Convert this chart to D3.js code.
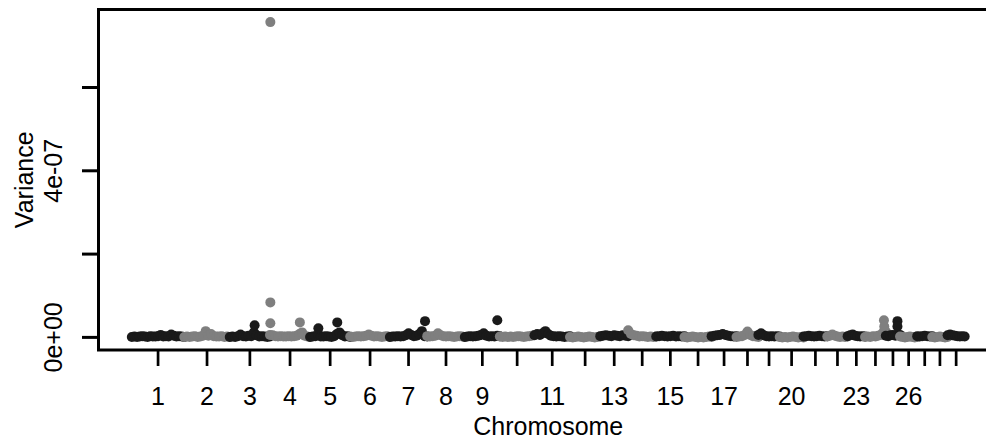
<!DOCTYPE html>
<html><head><meta charset="utf-8">
<script src="https://cdn.jsdelivr.net/npm/d3@7"></script>
<style>
body{margin:0;background:#fff}
svg{display:block}
text{font-family:"Liberation Sans",Arial,Helvetica,sans-serif;fill:#000}
</style>
</head><body>
<svg id="chart" width="986" height="439"></svg>
<script>
// ---- data ----
const chromosomes = [1,2,3,4,5,6,7,8,9,10,11,12,13,14,15,16,17,18,19,20,21,22,23,24,25,26,27,28,29];
const chromLengthsMb = [158.3,137.1,121.4,120.8,121.2,119.5,112.6,113.4,105.7,104.3,107.3,91.2,84.2,84.6,85.3,81.7,75.2,66.0,64.1,72.0,71.6,61.4,52.5,62.7,42.9,51.7,45.4,46.3,51.5];
const xTickLabels = ["1","2","3","4","5","6","7","8","9","","11","","13","","15","","17","","","20","","","23","","","26","","",""];
// background SNP variances per chromosome, in units of 1e-9, ordered along the chromosome
const valueUnit = 1e-9;
const bandValues = [
  [1,2,1,2,3,2,1,3,2,2,3,6,2,3,2,7,4,2,3,2,1],
  [1,2,1,2,3,1,2,4,15,4,8,3,2,2,3,1,2,1],
  [1,2,1,3,7,3,2,4,3,12,5,2,3,2,1,2],
  [6,5,3,2,3,2,2,3,2,3,4,8,12,4,2,1],
  [1,2,3,6,2,2,3,2,1,3,8,12,5,2,3,1],
  [2,1,2,3,2,3,4,7,4,2,3,2,1,2,3,1],
  [1,2,2,3,2,3,5,10,6,3,4,8,15,3,2],
  [3,2,3,4,10,5,3,2,3,2,1,2,3,2,1],
  [1,2,3,2,3,4,6,10,4,2,3,2,4,3],
  [2,1,2,1,2,1,2,3,2,1,2,3,4,6],
  [5,8,6,10,15,8,4,3,2,3,2,1,2,3],
  [1,0,1,2,1,0,1,2,1,0,1,2],
  [3,4,5,4,3,5,4,3,5,4,3],
  [17,8,5,4,2,3,2,1,2,1,2],
  [2,3,4,3,2,3,4,2,3,2,3],
  [1,0,1,2,1,0,1,0,1,2,1],
  [3,4,5,6,8,6,4,3,2,3],
  [1,2,3,6,14,6,3,2,1],
  [6,10,5,3,2,3,2,3,2],
  [1,0,1,0,1,2,1,0,1,0],
  [2,3,4,3,2,3,4,3,2,3],
  [2,4,7,4,2,1,2,1,2],
  [3,5,7,4,3,2,3,2],
  [1,2,1,3,2,4,6,12,14],
  [4,3,5,6,4,8,6],
  [2,1,0,1,2,1,0,1],
  [3,2,3,4,3,2,3],
  [1,0,1,2,1,0,1],
  [5,7,5,4,3,2,3,2]
];
// high-variance SNPs: chromosome, position within chromosome (Mb), variance (1e-9)
const peakChrom = [3, 4, 4, 4, 4, 5, 5, 7, 9, 24, 24, 25, 25];
const peakPosMb = [75, 1, 1, 1, 90, 25, 82, 106, 98, 57, 58, 35, 35];
const peakValue = [29, 757, 84, 34, 36, 22, 36, 39, 41, 41, 26, 39, 26];
const yTickValues = [0, 2e-7, 4e-7, 6e-7];
const yTickLabels = ["0e+00", "", "4e-07", ""];
const seriesColors = ["#1a1a1a", "#7f7f7f"];

// ---- build ----
const starts = [];
let acc = 0;
chromLengthsMb.forEach(l => { starts.push(acc); acc += l; });
const total = acc;

const points = [];
chromosomes.forEach((c, ci) => {
  const vals = bandValues[ci], n = vals.length, len = chromLengthsMb[ci];
  vals.forEach((v, i) => points.push({c: ci, pos: starts[ci] + i * len / (n - 1), v: v * valueUnit}));
  peakChrom.forEach((pc, k) => {
    if (pc === c) points.push({c: ci, pos: starts[ci] + peakPosMb[k], v: peakValue[k] * valueUnit});
  });
});

const maxV = d3.max(points, d => d.v);
const L = 98.5, R = 998, T = 9.5, B = 350;
const x = d3.scaleLinear().domain([-0.04 * total, total * 1.04]).range([L, R]);
const y = d3.scaleLinear().domain([-0.04 * maxV, maxV * 1.04]).range([B, T]);
const FS = 25;

const svg = d3.select("#chart");

svg.append("g").selectAll("circle").data(points).join("circle")
  .attr("cx", d => x(d.pos)).attr("cy", d => y(d.v)).attr("r", 5)
  .attr("fill", d => seriesColors[d.c % 2]);

// box
svg.append("rect").attr("x", L).attr("y", T).attr("width", R - L).attr("height", B - T)
  .attr("fill", "none").attr("stroke", "#000").attr("stroke-width", 3);

// x axis ticks
const mids = chromosomes.map((c, i) => starts[i] + chromLengthsMb[i] / 2);
const gx = svg.append("g");
gx.selectAll("line").data(mids).join("line")
  .attr("x1", d => x(d)).attr("x2", d => x(d)).attr("y1", B).attr("y2", 366)
  .attr("stroke", "#000").attr("stroke-width", 2.7);
gx.selectAll("text").data(mids).join("text")
  .attr("x", d => x(d)).attr("y", 405).attr("text-anchor", "middle")
  .attr("font-size", FS).text((d, i) => xTickLabels[i]);

// y axis ticks
const gy = svg.append("g");
gy.selectAll("line").data(yTickValues).join("line")
  .attr("x1", 82).attr("x2", L).attr("y1", d => y(d)).attr("y2", d => y(d))
  .attr("stroke", "#000").attr("stroke-width", 3);
gy.selectAll("text").data(yTickValues).join("text")
  .attr("transform", d => `translate(62,${y(d)}) rotate(-90)`)
  .attr("text-anchor", "middle").attr("font-size", FS)
  .text((d, i) => yTickLabels[i]);

// axis titles
svg.append("text").attr("x", (L + R) / 2).attr("y", 435).attr("text-anchor", "middle")
  .attr("font-size", FS).text("Chromosome");
svg.append("text").attr("transform", `translate(33,${(T + B) / 2}) rotate(-90)`)
  .attr("text-anchor", "middle").attr("font-size", FS).text("Variance");
</script>
</body></html>
